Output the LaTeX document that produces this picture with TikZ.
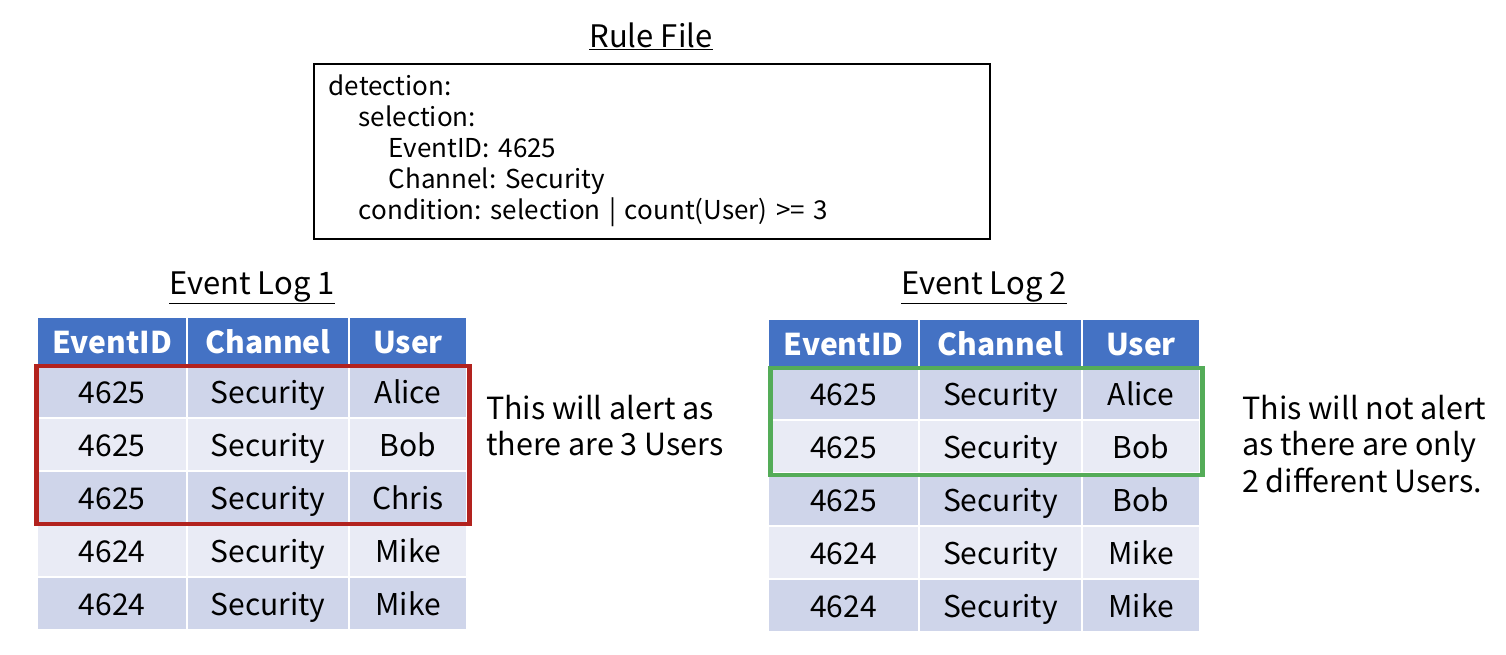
\documentclass[tikz,border=0pt]{standalone}
\usepackage{fontspec}
\setmainfont{Noto Sans CJK JP}
\usetikzlibrary{positioning}
\frenchspacing

\definecolor{hdblue}{RGB}{68,114,196}
\definecolor{rowdark}{RGB}{207,213,234}
\definecolor{rowlight}{RGB}{233,235,245}
\definecolor{alertred}{RGB}{178,34,30}
\definecolor{okgreen}{RGB}{84,172,88}

\tikzset{
  cell/.style={draw=white, line width=2pt, inner sep=0pt, minimum height=53pt,
    text height=26pt, text depth=2pt, font=\fontsize{30}{36}\selectfont},
  head/.style={cell, fill=hdblue, text=white, minimum height=48pt,
    font=\fontsize{30}{36}\selectfont\bfseries},
  title/.style={inner sep=0pt, font=\fontsize{31}{36}\selectfont},
  note/.style={inner sep=0pt, anchor=north west, align=left,
    font=\fontsize{30.5}{36.5}\selectfont},
  markbox/.style={line width=4.5pt}
}

\begin{document}
\begin{tikzpicture}[x=1pt,y=-1pt]
  \useasboundingbox (0,0) rectangle (1506,654);

  % rule file
  \node[title] (ruletitle) at (651,36) {\underline{Rule File}};
  \node[draw, line width=1.5pt, anchor=north west, minimum width=676pt, minimum height=175pt,
    inner xsep=15pt, inner ysep=6pt, text width=646pt, align=left,
    font=\fontsize{26}{31}\selectfont] (rulebox) at (313,63)
    {detection:\\
     \hspace*{30pt}selection:\\
     \hspace*{60pt}EventID: 4625\\
     \hspace*{60pt}Channel: Security\\
     \hspace*{30pt}condition: selection | count(User) >= 3\par};

  % event log 1
  \node[title] (logtitle1) at (252,288) {\underline{Event Log 1}};
  \node[head, minimum width=150pt] (t1-0-1) at (112,341) {EventID};
  \node[head, minimum width=162pt] (t1-0-2) at (268,341) {Channel};
  \node[head, minimum width=118pt] (t1-0-3) at (408,341) {User};
  \foreach \id/\ch/\us/\fc [count=\r] in {4625/Security/Alice/rowdark,
      4625/Security/Bob/rowlight, 4625/Security/Chris/rowdark,
      4624/Security/Mike/rowlight, 4624/Security/Mike/rowdark} {
    \node[cell, fill=\fc, minimum width=150pt] (t1-\r-1) at (112,{338.5+53*\r}) {\id};
    \node[cell, fill=\fc, minimum width=162pt] (t1-\r-2) at (268,{338.5+53*\r}) {\ch};
    \node[cell, fill=\fc, minimum width=118pt] (t1-\r-3) at (408,{338.5+53*\r}) {\us};
  }
  \draw[markbox, alertred] ([shift={(0.5,2)}]t1-1-1.north west) rectangle ([shift={(1.5,-1)}]t1-3-3.south east);
  \node[note] (alert1) at (486,395) {This will alert as\\there are 3 Users};

  % event log 2
  \node[title] (logtitle2) at (984,288) {\underline{Event Log 2}};
  \node[head, minimum width=151pt] (t2-0-1) at (843.5,343) {EventID};
  \node[head, minimum width=163pt] (t2-0-2) at (1000.5,343) {Channel};
  \node[head, minimum width=118pt] (t2-0-3) at (1141,343) {User};
  \foreach \id/\ch/\us/\fc [count=\r] in {4625/Security/Alice/rowdark,
      4625/Security/Bob/rowlight, 4625/Security/Bob/rowdark,
      4624/Security/Mike/rowlight, 4624/Security/Mike/rowdark} {
    \node[cell, fill=\fc, minimum width=151pt] (t2-\r-1) at (843.5,{340.5+53*\r}) {\id};
    \node[cell, fill=\fc, minimum width=163pt] (t2-\r-2) at (1000.5,{340.5+53*\r}) {\ch};
    \node[cell, fill=\fc, minimum width=118pt] (t2-\r-3) at (1141,{340.5+53*\r}) {\us};
  }
  \draw[markbox, okgreen] ([shift={(3.5,2)}]t2-1-1.north west) rectangle ([shift={(1.5,1)}]t2-2-3.south east);
  \node[note] (alert2) at (1242,395) {This will not alert\\as there are only\\2 different Users.};
\end{tikzpicture}
\end{document}
